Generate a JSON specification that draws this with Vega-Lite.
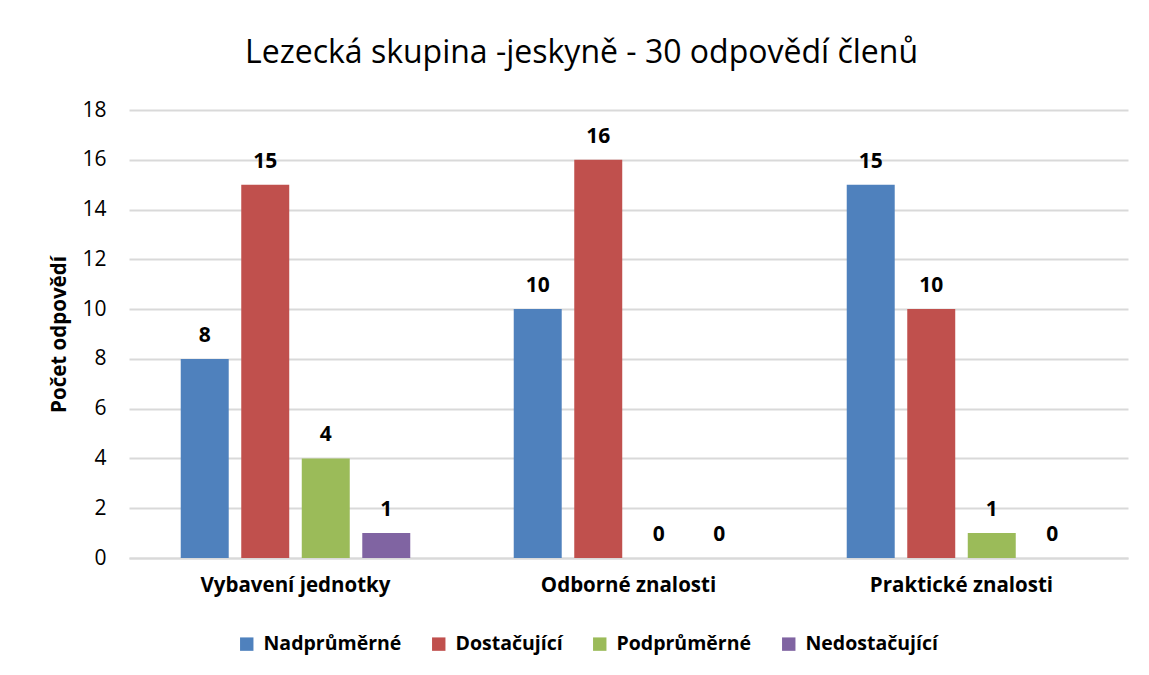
{
  "$schema": "https://vega.github.io/schema/vega-lite/v6.json",
  "autosize": {"type": "none"},
  "width": 999,
  "height": 448,
  "padding": {"left": 129, "top": 110, "right": 21, "bottom": 117},
  "background": "white",
  "config": {
    "font": "Open Sans",
    "view": {"stroke": null}
  },
  "title": {
    "text": "Lezecká skupina -jeskyně - 30 odpovědí členů",
    "fontSize": 32,
    "fontWeight": "normal",
    "color": "#000000",
    "anchor": "middle",
    "dx": -47,
    "offset": 29
  },
  "data": {
    "values": [
      {"kategorie": "Vybavení jednotky", "hodnoceni": "Nadprůměrné", "pocet": 8},
      {"kategorie": "Vybavení jednotky", "hodnoceni": "Dostačující", "pocet": 15},
      {"kategorie": "Vybavení jednotky", "hodnoceni": "Podprůměrné", "pocet": 4},
      {"kategorie": "Vybavení jednotky", "hodnoceni": "Nedostačující", "pocet": 1},
      {"kategorie": "Odborné znalosti", "hodnoceni": "Nadprůměrné", "pocet": 10},
      {"kategorie": "Odborné znalosti", "hodnoceni": "Dostačující", "pocet": 16},
      {"kategorie": "Odborné znalosti", "hodnoceni": "Podprůměrné", "pocet": 0},
      {"kategorie": "Odborné znalosti", "hodnoceni": "Nedostačující", "pocet": 0},
      {"kategorie": "Praktické znalosti", "hodnoceni": "Nadprůměrné", "pocet": 15},
      {"kategorie": "Praktické znalosti", "hodnoceni": "Dostačující", "pocet": 10},
      {"kategorie": "Praktické znalosti", "hodnoceni": "Podprůměrné", "pocet": 1},
      {"kategorie": "Praktické znalosti", "hodnoceni": "Nedostačující", "pocet": 0}
    ]
  },
  "encoding": {
    "x": {
      "field": "kategorie",
      "type": "nominal",
      "sort": ["Vybavení jednotky", "Odborné znalosti", "Praktické znalosti"],
      "scale": {"paddingInner": 0, "paddingOuter": 0},
      "axis": {
        "title": null,
        "labelAngle": 0,
        "labelFontSize": 20.5,
        "labelFontWeight": "bold",
        "labelColor": "#000000",
        "labelPadding": 17,
        "labelLimit": 0,
        "ticks": false,
        "domain": true,
        "domainColor": "#D9D9D9",
        "domainWidth": 2
      }
    },
    "xOffset": {
      "field": "hodnoceni",
      "type": "nominal",
      "sort": ["Nadprůměrné", "Dostačující", "Podprůměrné", "Nedostačující"],
      "scale": {"paddingInner": 0.207, "paddingOuter": 0.855}
    },
    "y": {
      "field": "pocet",
      "type": "quantitative",
      "scale": {"domain": [0, 18]},
      "axis": {
        "title": "Počet odpovědí",
        "titleFontSize": 20.5,
        "titleFontWeight": "bold",
        "titleColor": "#000000",
        "titlePadding": 12,
        "values": [0, 2, 4, 6, 8, 10, 12, 14, 16, 18],
        "labelFontSize": 21,
        "labelColor": "#000000",
        "labelPadding": 23,
        "ticks": false,
        "domain": false,
        "grid": true,
        "gridColor": "#D9D9D9",
        "gridWidth": 2
      }
    }
  },
  "layer": [
    {
      "mark": {"type": "bar"},
      "encoding": {
        "color": {
          "field": "hodnoceni",
          "type": "nominal",
          "sort": ["Nadprůměrné", "Dostačující", "Podprůměrné", "Nedostačující"],
          "scale": {"range": ["#4F81BD", "#C0504D", "#9BBB59", "#8064A2"]},
          "legend": {
            "title": null,
            "orient": "none",
            "direction": "horizontal",
            "legendX": 108,
            "legendY": 524,
            "symbolType": "square",
            "symbolSize": 180,
            "symbolStrokeWidth": 0,
            "labelFontSize": 19.5,
            "labelFontWeight": "bold",
            "labelColor": "#000000",
            "labelLimit": 0,
            "columnPadding": 27,
            "labelOffset": 7
          }
        }
      }
    },
    {
      "mark": {"type": "text", "baseline": "alphabetic", "dy": -17, "fontSize": 21, "fontWeight": "bold", "color": "#000000"},
      "encoding": {
        "text": {"field": "pocet", "type": "quantitative"}
      }
    }
  ]
}
